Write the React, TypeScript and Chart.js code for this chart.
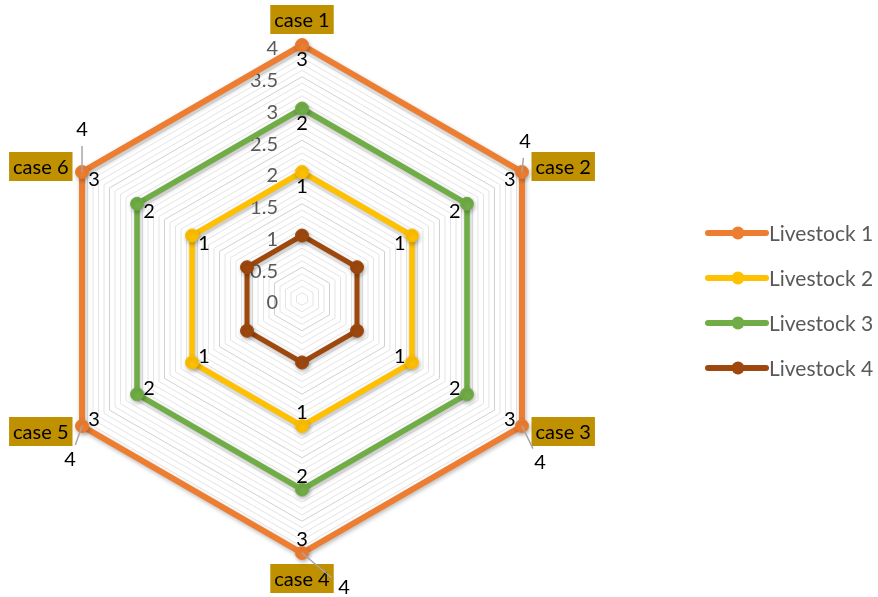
import React, { useEffect, useRef } from 'react';
import { Chart, registerables } from 'chart.js';

Chart.register(...registerables);

// ---------- data ----------
const CATEGORIES = ['case 1', 'case 2', 'case 3', 'case 4', 'case 5', 'case 6'];
const SERIES_NAMES = ['Livestock 1', 'Livestock 2', 'Livestock 3', 'Livestock 4'];
const LIVESTOCK_1 = [4, 4, 4, 4, 4, 4];
const LIVESTOCK_2 = [2, 2, 2, 2, 2, 2];
const LIVESTOCK_3 = [3, 3, 3, 3, 3, 3];
const LIVESTOCK_4 = [1, 1, 1, 1, 1, 1];
const TICK_LABELS = ['0', '0.5', '1', '1.5', '2', '2.5', '3', '3.5', '4'];
// data labels shown next to the points (inside), per series
const INNER_LABELS_1 = ['3', '3', '3', '3', '3', '3'];
const INNER_LABELS_2 = ['1', '1', '1', '1', '1', '1'];
const INNER_LABELS_3 = ['2', '2', '2', '2', '2', '2'];
const INNER_LABELS_4 = ['', '', '', '', '', ''];
// labels shown outside the outer series (with leader lines)
const OUTER_LABELS_1 = ['', '4', '4', '4', '4', '4'];

// ---------- styles / layout ----------
const SERIES = [LIVESTOCK_1, LIVESTOCK_2, LIVESTOCK_3, LIVESTOCK_4];
const INNER_LABELS = [INNER_LABELS_1, INNER_LABELS_2, INNER_LABELS_3, INNER_LABELS_4];
const COLORS = ['#ED7D31', '#FFC000', '#70AD47', '#9E480E'];
const LINE_WIDTHS = [6, 5.5, 5.5, 5];
const OUTER_OFFSETS: [number, number][] = [[0, 0], [3, -30], [18, 37], [42, 35], [-12, 34], [0, -42]];
const FONT = 'Lato, "Open Sans", sans-serif';

const drawPlugin = {
  id: 'excelDecor',
  beforeDatasetsDraw(chart: any) {
    const ctx = chart.ctx as CanvasRenderingContext2D;
    const scale = chart.scales.r;
    // tick labels
    ctx.save();
    ctx.font = `20px ${FONT}`;
    ctx.fillStyle = '#595959';
    ctx.textAlign = 'right';
    ctx.textBaseline = 'middle';
    TICK_LABELS.forEach((t) => {
      const v = parseFloat(t);
      const y = scale.yCenter - scale.getDistanceFromCenterForValue(v) + 4;
      ctx.fillText(t, scale.xCenter - 24, y);
    });
    // category labels with background
    ctx.font = `20px ${FONT}`;
    ctx.textBaseline = 'middle';
    CATEGORIES.forEach((c, i) => {
      const p = scale.getPointPosition(i, scale.drawingArea + 11);
      let deg = Math.round(((p.angle + Math.PI / 2) * 180) / Math.PI);
      deg = ((deg % 360) + 360) % 360;
      const tw = ctx.measureText(c).width;
      const w = tw + 8;
      const h = 29;
      let left: number, top: number;
      if (deg === 0) { left = p.x - w / 2; top = p.y - h; }
      else if (deg === 180) { left = p.x - w / 2; top = p.y; }
      else if (deg < 180) { left = p.x; top = p.y - h / 2; }
      else { left = p.x - w; top = p.y - h / 2; }
      ctx.fillStyle = '#BF9000';
      ctx.fillRect(left, top, w, h);
      ctx.fillStyle = '#000000';
      ctx.textAlign = 'center';
      ctx.fillText(c, left + w / 2, top + h / 2 + 1);
    });
    ctx.restore();
    // shadow for series
    ctx.save();
    ctx.shadowColor = 'rgba(0,0,0,0.28)';
    ctx.shadowBlur = 4;
    ctx.shadowOffsetX = 1;
    ctx.shadowOffsetY = 2;
  },
  afterDatasetsDraw(chart: any) {
    const ctx = chart.ctx as CanvasRenderingContext2D;
    ctx.restore();
    const scale = chart.scales.r;
    const xc = scale.xCenter;
    const yc = scale.yCenter;
    ctx.save();
    ctx.font = `20px ${FONT}`;
    ctx.fillStyle = '#000000';
    ctx.textAlign = 'center';
    ctx.textBaseline = 'middle';
    chart.data.datasets.forEach((_ds: any, i: number) => {
      const meta = chart.getDatasetMeta(i);
      meta.data.forEach((pt: any, j: number) => {
        const txt = INNER_LABELS[i][j];
        if (!txt) return;
        const dx = xc - pt.x;
        const dy = yc - pt.y;
        const len = Math.hypot(dx, dy) || 1;
        ctx.fillText(txt, pt.x + (dx / len) * 14, pt.y + (dy / len) * 14 + 1);
      });
    });
    // outer labels with leader lines for series 1
    const meta0 = chart.getDatasetMeta(0);
    meta0.data.forEach((pt: any, j: number) => {
      const txt = OUTER_LABELS_1[j];
      if (!txt) return;
      const [ox, oy] = OUTER_OFFSETS[j];
      const lx = pt.x + ox;
      const ly = pt.y + oy;
      const len = Math.hypot(ox, oy);
      if (len > 22) {
        const ex = lx - (ox / len) * 16;
        const ey = ly - (oy / len) * 16;
        ctx.strokeStyle = '#A6A6A6';
        ctx.lineWidth = 1.5;
        ctx.beginPath();
        ctx.moveTo(pt.x, pt.y);
        ctx.lineTo(ex, ey);
        ctx.stroke();
      }
      ctx.fillStyle = '#000000';
      ctx.fillText(txt, lx, ly);
    });
    ctx.restore();
  },
  afterDraw(chart: any) {
    const ctx = chart.ctx as CanvasRenderingContext2D;
    ctx.save();
    chart.data.datasets.forEach((ds: any, i: number) => {
      const y = 233 + 45 * i;
      ctx.strokeStyle = COLORS[i];
      ctx.lineWidth = 6;
      ctx.lineCap = 'round';
      ctx.beginPath();
      ctx.moveTo(708, y);
      ctx.lineTo(766, y);
      ctx.stroke();
      ctx.fillStyle = COLORS[i];
      ctx.beginPath();
      ctx.arc(738, y, 6.5, 0, Math.PI * 2);
      ctx.fill();
      ctx.fillStyle = '#595959';
      ctx.font = `21px ${FONT}`;
      ctx.textAlign = 'left';
      ctx.textBaseline = 'middle';
      ctx.fillText(ds.label, 769, y + 1);
    });
    ctx.restore();
  },
};

export default function App() {
  const ref = useRef<HTMLCanvasElement>(null);
  useEffect(() => {
    document.body.style.margin = '0';
    const canvas = ref.current!;
    const chart = new Chart(canvas, {
      type: 'radar',
      data: {
        labels: CATEGORIES,
        datasets: SERIES.map((s, i) => ({
          label: SERIES_NAMES[i],
          data: s,
          borderColor: COLORS[i],
          backgroundColor: COLORS[i],
          pointBackgroundColor: COLORS[i],
          pointBorderColor: COLORS[i],
          borderWidth: LINE_WIDTHS[i],
          pointRadius: 6.5,
          pointBorderWidth: 1,
          fill: false,
          tension: 0,
        })),
      },
      options: {
        responsive: false,
        animation: false,
        layout: { padding: { left: 48, top: 45, right: 322, bottom: 44 } },
        plugins: { legend: { display: false }, tooltip: { enabled: false } },
        scales: {
          r: {
            min: 0,
            max: 4,
            startAngle: 0,
            ticks: { display: false, stepSize: 0.1 },
            grid: {
              color: (c: any) => {
                const v = c.tick ? c.tick.value : 0;
                const major = Math.abs(v * 2 - Math.round(v * 2)) < 1e-6;
                return major ? '#D0D0D0' : '#E4E4E4';
              },
              lineWidth: 1,
            },
            angleLines: { display: false },
            pointLabels: { display: false },
          },
        },
      } as any,
      plugins: [drawPlugin],
    });
    return () => chart.destroy();
  }, []);
  return <canvas ref={ref} width={878} height={597} style={{ display: 'block' }} />;
}
